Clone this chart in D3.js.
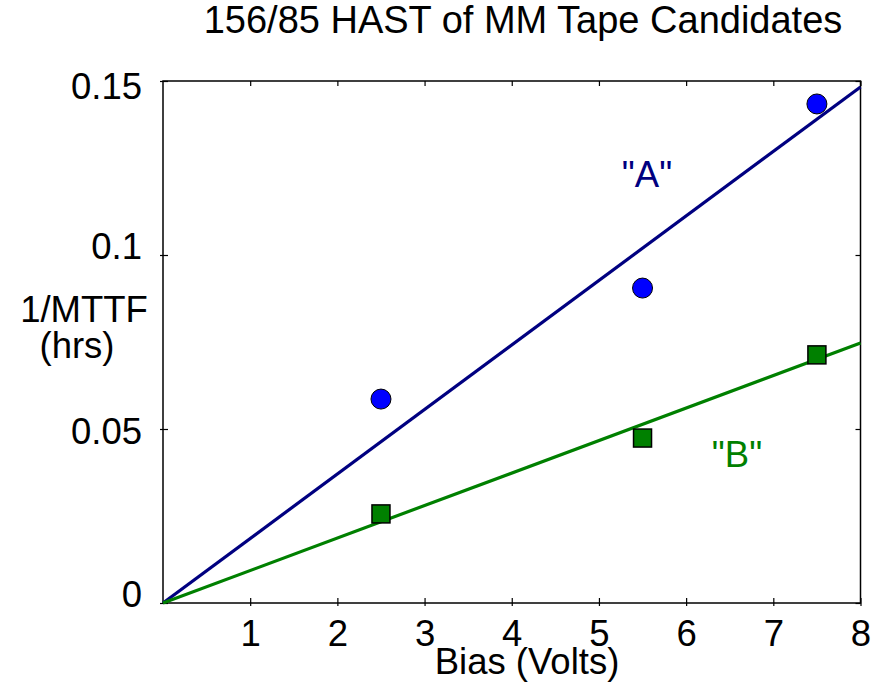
<!DOCTYPE html>
<html><head><meta charset="utf-8">
<script src="https://cdn.jsdelivr.net/npm/d3@7"></script>
<style>body{margin:0;background:#fff}text{font-family:"Liberation Sans",Arial,sans-serif}</style>
</head><body><svg id="c" width="883" height="687"></svg>
<script>
const biasA = [2.5, 5.5, 7.5];
const valA = [0.0586, 0.0905, 0.1434];
const biasB = [2.5, 5.5, 7.5];
const valB = [0.0256, 0.0474, 0.0713];
const fitA = [[0, 0], [8, 0.1483]];
const fitB = [[0, 0], [8, 0.0747]];
const xTicks = [1, 2, 3, 4, 5, 6, 7, 8];
const yTicks = [0, 0.05, 0.1, 0.15];
const yTickLabels = ["0", "0.05", "0.1", "0.15"];

const svg = d3.select("#c");
const x = d3.scaleLinear().domain([0, 8]).range([163, 860.5]);
const y = d3.scaleLinear().domain([0, 0.15]).range([603, 81]);
const FS = 36.5;

// frame
svg.append("rect").attr("x", 163).attr("y", 81).attr("width", 860.5 - 163).attr("height", 603 - 81)
  .attr("fill", "none").attr("stroke", "#000").attr("stroke-width", 1.5);

// axes
const xb = svg.append("g").attr("transform", "translate(0,603)")
  .call(d3.axisBottom(x).tickValues(xTicks).tickSize(-5).tickFormat(d3.format("d")));
xb.select(".domain").remove();
xb.selectAll(".tick line").attr("stroke-width", 1.2).attr("y1", 3);
xb.selectAll(".tick text").attr("font-size", FS).attr("dy", 0).attr("y", 43).attr("fill", "#000");

const xt = svg.append("g").attr("transform", "translate(0,81)")
  .call(d3.axisTop(x).tickValues(xTicks).tickSize(-5).tickFormat(""));
xt.select(".domain").remove();
xt.selectAll(".tick line").attr("stroke-width", 1.2);

// per-label vertical nudges as in the original layout
const yNudge = [-10, 1, -10, 4];
const yl = svg.append("g").attr("transform", "translate(163,0)")
  .call(d3.axisLeft(y).tickValues(yTicks).tickSize(-5).tickFormat((d, i) => yTickLabels[i]));
yl.select(".domain").remove();
yl.selectAll(".tick line").attr("stroke-width", 1.2).attr("x1", -3);
yl.selectAll(".tick text").attr("font-size", FS).attr("x", -21)
  .attr("y", (d, i) => yNudge[i]).attr("dy", "0.36em").attr("fill", "#000");

const yr = svg.append("g").attr("transform", "translate(860.5,0)")
  .call(d3.axisRight(y).tickValues(yTicks).tickSize(-5).tickFormat(""));
yr.select(".domain").remove();
yr.selectAll(".tick line").attr("stroke-width", 1.2);

// fit lines
const line = d3.line().x(d => x(d[0])).y(d => y(d[1]));
svg.append("path").attr("d", line(fitA)).attr("stroke", "#000080").attr("stroke-width", 3.2).attr("fill", "none");
svg.append("path").attr("d", line(fitB)).attr("stroke", "#008000").attr("stroke-width", 3.2).attr("fill", "none");

// points
svg.selectAll(".pa").data(biasA).enter().append("circle")
  .attr("cx", d => x(d)).attr("cy", (d, i) => y(valA[i])).attr("r", 10)
  .attr("fill", "#0000ff").attr("stroke", "#000").attr("stroke-width", 1);
svg.selectAll(".pb").data(biasB).enter().append("rect")
  .attr("x", d => x(d) - 9).attr("y", (d, i) => y(valB[i]) - 9).attr("width", 18).attr("height", 18)
  .attr("fill", "#008000").attr("stroke", "#000").attr("stroke-width", 1.5);

// labels
svg.append("text").attr("x", 647).attr("y", 187).attr("text-anchor", "middle").attr("font-size", FS)
  .attr("fill", "#000080").text('"A"');
svg.append("text").attr("x", 737).attr("y", 467).attr("text-anchor", "middle").attr("font-size", FS)
  .attr("fill", "#008000").text('"B"');

svg.append("text").attr("x", 523).attr("y", 33).attr("text-anchor", "middle").attr("font-size", 38).text("156/85 HAST of MM Tape Candidates");
svg.append("text").attr("x", 527).attr("y", 674).attr("text-anchor", "middle").attr("font-size", FS).text("Bias (Volts)");
svg.append("text").attr("x", 84).attr("y", 322).attr("text-anchor", "middle").attr("font-size", FS).text("1/MTTF");
svg.append("text").attr("x", 77).attr("y", 358).attr("text-anchor", "middle").attr("font-size", FS).text("(hrs)");
</script></body></html>
